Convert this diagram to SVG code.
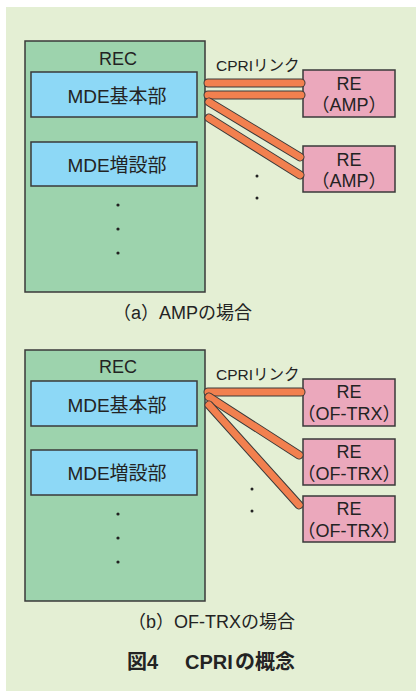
<svg xmlns="http://www.w3.org/2000/svg" width="416" height="691" viewBox="0 0 416 691">
  <style>
    text { font-family: "Liberation Sans", "Noto Sans CJK JP", sans-serif; fill: #232323; }
    .panel { fill: #e4efd4; }
    .rec { fill: #9dd3ad; stroke: #3a3a3a; stroke-width: 1.5; }
    .mde { fill: #8dd8f6; stroke: #3a3a3a; stroke-width: 1.5; }
    .re { fill: #eba8bc; stroke: #3a3a3a; stroke-width: 1.5; }
    .lbl { font-size: 19px; text-anchor: middle; }
    .rec-t { font-size: 18px; text-anchor: middle; }
    .re-t { font-size: 18px; text-anchor: middle; }
    .link-t { font-size: 15.5px; }
    .cap { font-size: 18px; }
    .title { font-size: 20px; font-weight: bold; }
    .cable-o { stroke: #3a3a3a; stroke-width: 9; stroke-linecap: round; fill: none; }
    .cable-i { stroke: #f2804f; stroke-width: 7; stroke-linecap: round; fill: none; }
    .dot { fill: #222; }
  </style>

  <rect class="panel" x="6" y="7" width="410" height="684"/>

  <!-- (a) AMP -->
  <g id="rec-a">
    <rect class="rec" x="25" y="41" width="180" height="251"/>
    <text class="rec-t" x="118" y="65">REC</text>
    <circle class="dot" cx="118" cy="205" r="1.6"/>
    <circle class="dot" cx="118" cy="229" r="1.6"/>
    <circle class="dot" cx="118" cy="253" r="1.6"/>
  </g>
  <g id="mde-basic-a">
    <rect class="mde" x="31" y="72" width="166" height="45"/>
    <text class="lbl" x="117" y="103">MDE基本部</text>
  </g>
  <g id="mde-ext-a">
    <rect class="mde" x="31" y="142" width="166" height="44"/>
    <text class="lbl" x="117" y="172">MDE増設部</text>
  </g>
  <g id="re-a1">
    <rect class="re" x="303" y="70" width="92" height="47"/>
    <text class="re-t" x="349" y="90">RE</text>
    <text class="re-t" x="349" y="111">（AMP）</text>
  </g>
  <g id="re-a2">
    <rect class="re" x="303" y="146" width="92" height="46"/>
    <text class="re-t" x="349" y="166">RE</text>
    <text class="re-t" x="349" y="187">（AMP）</text>
  </g>
  <text class="link-t" x="216" y="71">CPRIリンク</text>
  <circle class="dot" cx="257" cy="176" r="1.5"/>
  <circle class="dot" cx="257" cy="198" r="1.5"/>
  <text class="cap" x="113" y="319">（a）AMPの場合</text>

  <!-- (b) OF-TRX -->
  <g id="rec-b">
    <rect class="rec" x="25" y="350" width="180" height="251"/>
    <text class="rec-t" x="118" y="373">REC</text>
    <circle class="dot" cx="118" cy="514" r="1.6"/>
    <circle class="dot" cx="118" cy="538" r="1.6"/>
    <circle class="dot" cx="118" cy="562" r="1.6"/>
  </g>
  <g id="mde-basic-b">
    <rect class="mde" x="31" y="381" width="166" height="45"/>
    <text class="lbl" x="117" y="412">MDE基本部</text>
  </g>
  <g id="mde-ext-b">
    <rect class="mde" x="31" y="450" width="166" height="45"/>
    <text class="lbl" x="117" y="480">MDE増設部</text>
  </g>
  <g id="re-b1">
    <rect class="re" x="303" y="379" width="92" height="47"/>
    <text class="re-t" x="349" y="398">RE</text>
    <text class="re-t" x="349" y="420">（OF-TRX）</text>
  </g>
  <g id="re-b2">
    <rect class="re" x="303" y="439" width="92" height="46"/>
    <text class="re-t" x="349" y="458">RE</text>
    <text class="re-t" x="349" y="480">（OF-TRX）</text>
  </g>
  <g id="re-b3">
    <rect class="re" x="303" y="496" width="92" height="46"/>
    <text class="re-t" x="349" y="515">RE</text>
    <text class="re-t" x="349" y="537">（OF-TRX）</text>
  </g>
  <text class="link-t" x="216" y="380">CPRIリンク</text>
  <circle class="dot" cx="252" cy="489" r="1.5"/>
  <circle class="dot" cx="252" cy="511" r="1.5"/>
  <text class="cap" x="128" y="628">（b）OF-TRXの場合</text>

  <!-- CPRI links -->
  <g id="links">
    <g id="link-a1"><path class="cable-o" d="M208 83H301"/><path class="cable-i" d="M208 83H301"/></g>
    <g id="link-a2"><path class="cable-o" d="M208 95H301"/><path class="cable-i" d="M208 95H301"/></g>
    <g id="link-a3"><path class="cable-o" d="M209 102L300 157"/><path class="cable-i" d="M209 102L300 157"/></g>
    <g id="link-a4"><path class="cable-o" d="M209 118L300 175"/><path class="cable-i" d="M209 118L300 175"/></g>
    <g id="link-b1"><path class="cable-o" d="M208 392H301"/><path class="cable-i" d="M208 392H301"/></g>
    <g id="link-b2"><path class="cable-o" d="M209 397L299 455"/><path class="cable-i" d="M209 397L299 455"/></g>
    <g id="link-b3"><path class="cable-o" d="M209 405L299 505"/><path class="cable-i" d="M209 405L299 505"/></g>
  </g>

  <text class="title" y="669"><tspan x="127">図4</tspan><tspan x="185">CPRI</tspan><tspan x="235">の概念</tspan></text>
</svg>
